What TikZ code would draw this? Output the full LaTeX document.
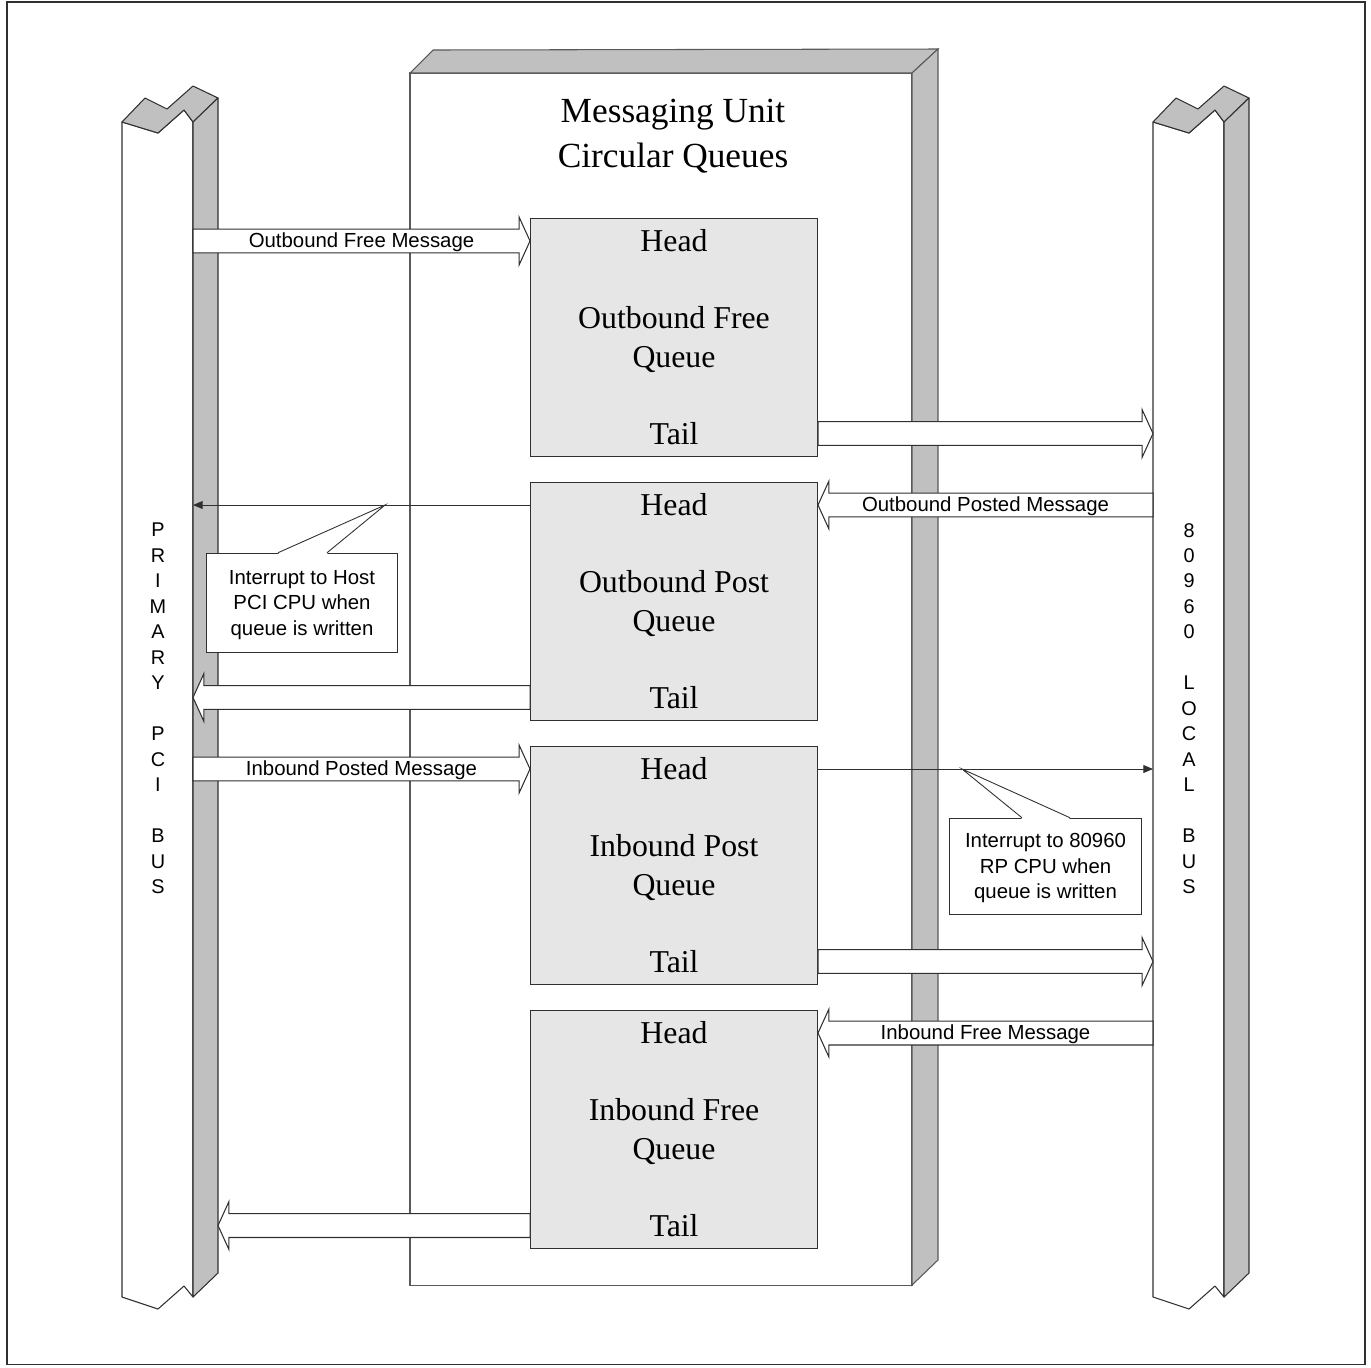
\documentclass[tikz,border=0pt]{standalone}
\usepackage{fontspec}
\setmainfont{Liberation Serif}
\newfontfamily\arialfont{Liberation Sans}
\usepackage{tikz}
\usetikzlibrary{arrows.meta,calc,positioning}
\definecolor{barside}{HTML}{C0C0C0}
\definecolor{queuefill}{HTML}{E6E6E6}
\definecolor{edge}{HTML}{303030}

% hollow block arrow: name, from, to, label
\newcommand{\fatarrow}[4]{%
  \coordinate (fa-s) at #2;
  \coordinate (fa-e) at #3;
  \coordinate (fa-b) at ($(fa-e)!6.2pt!(fa-s)$);
  \draw[fatarr] ($(fa-s)!6.8pt!90:(fa-e)$) -- ($(fa-b)!6.8pt!90:(fa-e)$)
    -- ($(fa-b)!13.6pt!90:(fa-e)$) -- (fa-e) -- ($(fa-b)!13.6pt!-90:(fa-e)$)
    -- ($(fa-b)!6.8pt!-90:(fa-e)$) -- ($(fa-s)!6.8pt!-90:(fa-e)$) -- cycle;
  \node[msg] (#1) at ($(fa-s)!0.5!(fa-e)+(0,1.5)$) {#4};
}

\begin{document}
\begin{tikzpicture}[x=0.02cm,y=-0.02cm,
      busline/.style={draw=edge,line width=0.6pt,line join=round},
      boxline/.style={draw=edge!80,line width=0.6pt},
      queue/.style={draw=edge,fill=queuefill,line width=0.6pt,minimum width=163.3pt,minimum height=135.5pt,inner sep=0pt},
      qtext/.style={font=\fontsize{18.1}{22.1}\selectfont,align=center,inner sep=0pt},
      msg/.style={font=\arialfont\fontsize{11.6}{13}\selectfont,inner sep=0pt},
      fatarr/.style={draw=edge,fill=white,line width=0.6pt,line join=miter},
      thinarr/.style={-{Triangle[length=5.5pt,width=4.5pt]},draw=edge,line width=0.5pt},
      callbox/.style={draw=edge,fill=white,line width=0.5pt,inner sep=0pt,align=center,font=\arialfont\fontsize{11.6}{14.5}\selectfont},
      buslabel/.style={font=\arialfont\fontsize{11.3}{14.5}\selectfont,align=center,inner sep=0pt}
    ]
      \useasboundingbox (0,0) rectangle (1371,1367);
      \draw[edge,line width=0.6pt] (7,2) rectangle (1365,1364);

      % messaging unit block
      \draw[boxline,fill=white] (410,73) rectangle (912,1285);
      \draw[boxline,fill=barside] (410,73) -- (433,50) -- (938,49) -- (912,73) -- cycle;
      \draw[boxline,fill=barside] (912,73) -- (938,49) -- (938,1260) -- (912,1285) -- cycle;
      \node[font=\fontsize{20.1}{25.5}\selectfont,align=center] (title) at (673,136.5) {Messaging Unit\\Circular Queues};

      % the two buses
      \foreach \dx in {0,1031}{
        \begin{scope}[shift={(\dx,0)}]
          \draw[busline,fill=white] (122,122) -- (158,133) -- (184,110) -- (193,122) -- (193,1297) -- (184,1286) -- (158,1309) -- (122,1297) -- cycle;
          \draw[busline,fill=barside] (122,122) -- (145,98) -- (167,109) -- (193,86) -- (218,98) -- (193,122) -- (184,110) -- (158,133) -- cycle;
          \draw[busline,fill=barside] (193,122) -- (218,98) -- (218,1273) -- (193,1297) -- cycle;
        \end{scope}
      }
      \coordinate (lbus) at (193,700);
      \coordinate (lbusside) at (218,700);
      \coordinate (rbus) at (1153,700);
      \node[buslabel] (pci) at (158,708.5) {P\\R\\I\\M\\A\\R\\Y\\~\\P\\C\\I\\~\\B\\U\\S};
      \node[buslabel] (local) at (1189,708.5) {8\\0\\9\\6\\0\\~\\L\\O\\C\\A\\L\\~\\B\\U\\S};

      % queues
      \foreach \i/\yc/\qname in {1/337.5/Outbound Free,2/601.5/Outbound Post,3/865.5/Inbound Post,4/1129.5/Inbound Free}{
        \node[queue] (q\i) at (674,\yc) {};
        \node[qtext] (qh\i) at ($(q\i.center)+(0,-96.5)$) {Head};
        \node[qtext] (qn\i) at ($(q\i.center)+(0,2)$) {\qname\\Queue};
        \node[qtext] (qt\i) at ($(q\i.center)+(0,96)$) {Tail};
      }

      % message flow
      \fatarrow{ofm}{(lbus |- qh1)}{(q1.west |- qh1)}{Outbound Free Message}
      \fatarrow{oft}{(q1.east |- qt1)}{(rbus |- qt1)}{}
      \fatarrow{opm}{(rbus |- qh2)}{(q2.east |- qh2)}{Outbound Posted Message}
      \draw[thinarr] (q2.west |- qh2) -- (lbus |- qh2);
      \fatarrow{opt}{(q2.west |- qt2)}{(lbus |- qt2)}{}
      \fatarrow{ipm}{(lbus |- qh3)}{(q3.west |- qh3)}{Inbound Posted Message}
      \draw[thinarr] (q3.east |- qh3) -- (rbus |- qh3);
      \fatarrow{ipt}{(q3.east |- qt3)}{(rbus |- qt3)}{}
      \fatarrow{ifm}{(rbus |- qh4)}{(q4.east |- qh4)}{Inbound Free Message}
      \fatarrow{ift}{(q4.west |- qt4)}{(lbusside |- qt4)}{}

      % interrupt callouts
      \coordinate (tip1) at ($(q2.west |- qh2)!0.43!(lbus |- qh2)$);
      \node[callbox,minimum width=108.9pt,minimum height=56.7pt] (cb1) at (302,603) {};
      \node[callbox,draw=none,fill=none] (cb1txt) at (302,605) {Interrupt to Host\\PCI CPU when\\queue is written};
      \fill[white] ($(cb1.north west)!0.375!(cb1.north east)+(0,1)$) -- (tip1) -- ($(cb1.north west)!0.63!(cb1.north east)+(0,1)$) -- cycle;
      \draw[edge,line width=0.5pt] ($(cb1.north west)!0.375!(cb1.north east)$) -- (tip1) -- ($(cb1.north west)!0.63!(cb1.north east)$);

      \coordinate (tip2) at ($(q3.east |- qh3)!0.43!(rbus |- qh3)$);
      \node[callbox,minimum width=109.4pt,minimum height=55pt] (cb2) at (1045.5,866.5) {};
      \node[callbox,draw=none,fill=none] (cb2txt) at (1045.5,868) {Interrupt to 80960\\RP CPU when\\queue is written};
      \fill[white] ($(cb2.north west)!0.378!(cb2.north east)+(0,1)$) -- (tip2) -- ($(cb2.north west)!0.627!(cb2.north east)+(0,1)$) -- cycle;
      \draw[edge,line width=0.5pt] ($(cb2.north west)!0.378!(cb2.north east)$) -- (tip2) -- ($(cb2.north west)!0.627!(cb2.north east)$);
    \end{tikzpicture}
\end{document}
